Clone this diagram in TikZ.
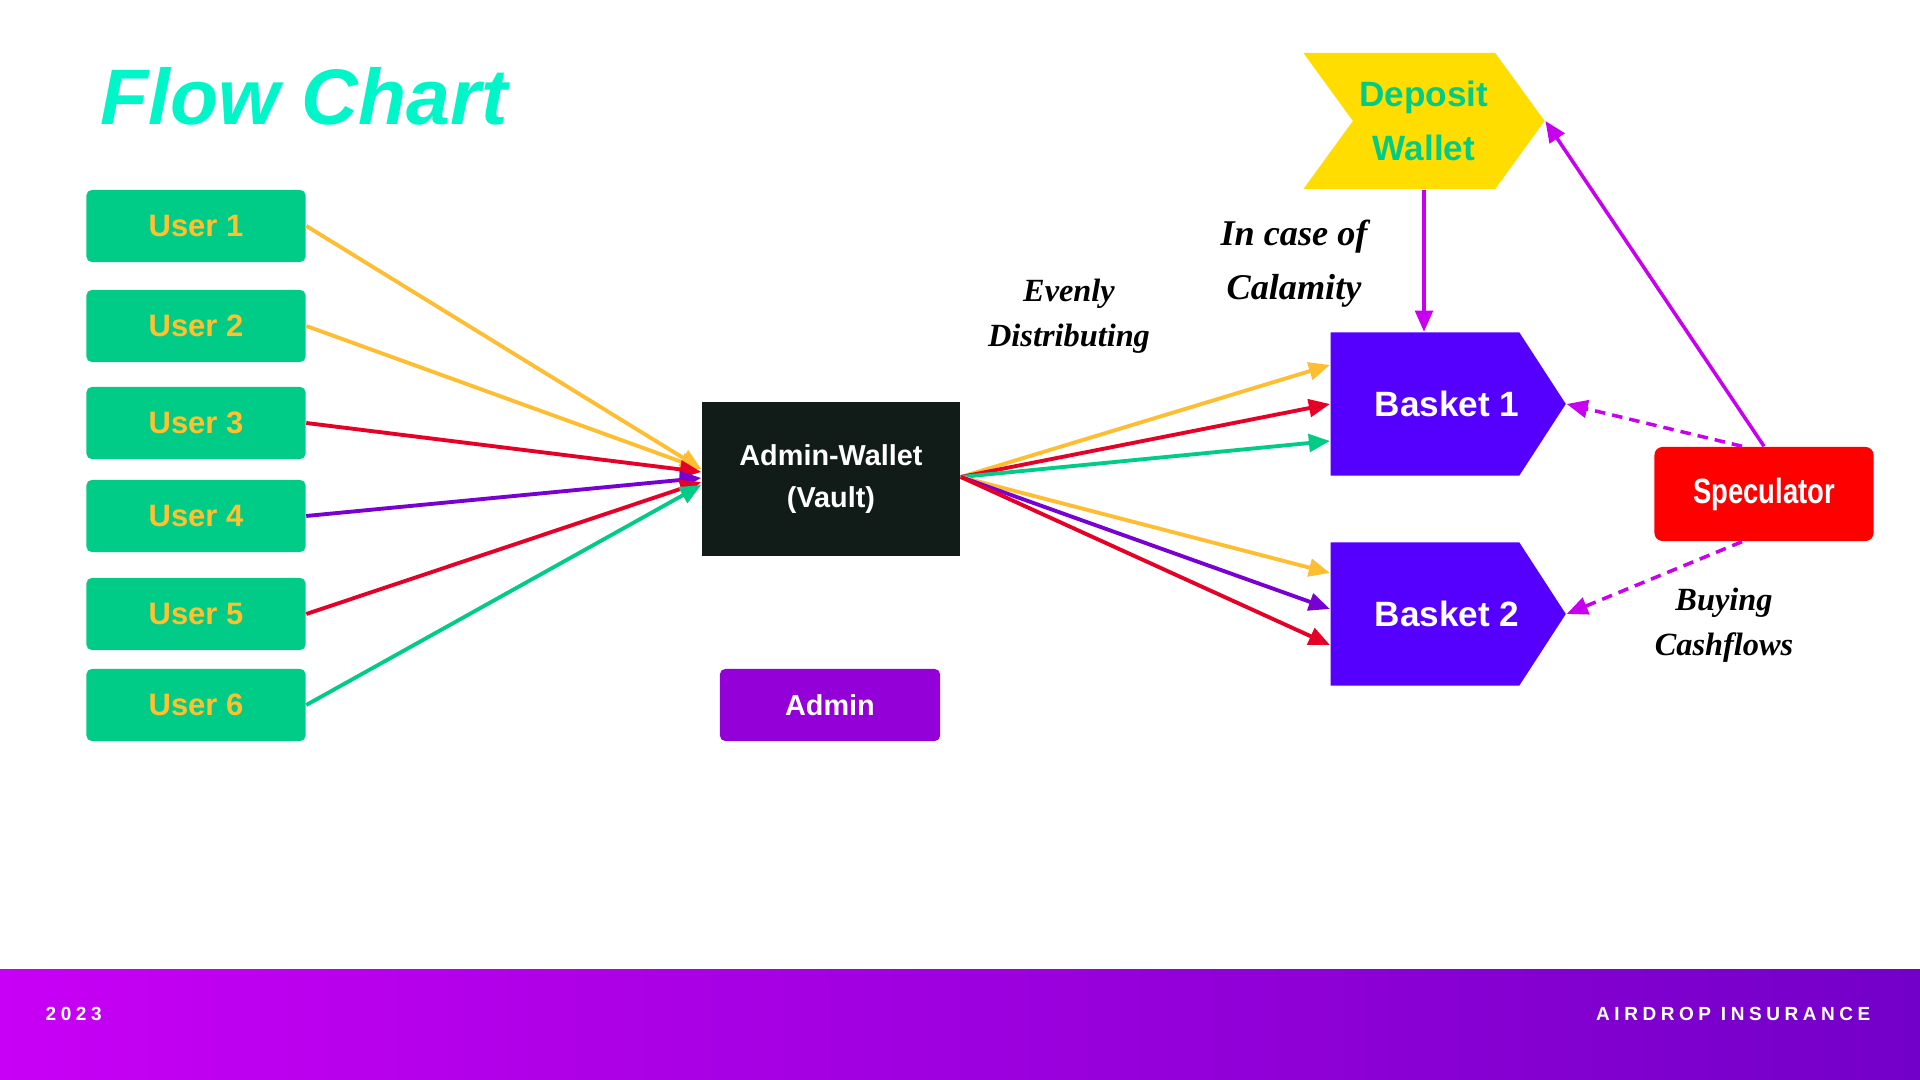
\documentclass[tikz,border=0pt]{standalone}
\usepackage{fontspec}
\setmainfont{Liberation Sans}
\newfontfamily\handfont{Liberation Serif}
\newfontfamily\condfont[FakeStretch=0.78]{Liberation Sans}
\newfontfamily\footfont[LetterSpace=24]{Liberation Sans}
\usepackage{xcolor}
\definecolor{titleaqua}{RGB}{0,245,200}
\definecolor{usergreen}{RGB}{0,204,136}
\definecolor{usertext}{RGB}{255,193,46}
\definecolor{arrorange}{RGB}{255,190,50}
\definecolor{arrred}{RGB}{230,0,40}
\definecolor{arrpurple}{RGB}{120,0,210}
\definecolor{vaultdark}{RGB}{17,28,25}
\definecolor{adminpurple}{RGB}{148,0,216}
\definecolor{depyellow}{RGB}{255,221,0}
\definecolor{basketblue}{RGB}{85,0,255}
\definecolor{specred}{RGB}{255,0,0}
\definecolor{linkpurple}{RGB}{200,0,240}
\definecolor{footleft}{RGB}{200,0,245}
\definecolor{footright}{RGB}{115,0,200}
\usepackage{tikz}
\usetikzlibrary{
  arrows.meta,
  positioning,
  shapes.symbols,
  calc
}

\begin{document}
\begin{tikzpicture}[x=0.01cm, y=-0.01cm,
  >={Triangle[length=6pt,width=5pt]},
  userbox/.style={fill=usergreen, rounded corners=1.5pt, inner sep=0pt,
    minimum width=2.19cm, minimum height=0.72cm, text=usertext,
    font=\bfseries\fontsize{8.8}{10}\selectfont},
  flow/.style={->, line width=1.1pt},
  basket/.style={signal, signal to=east, signal pointer angle=114,
    fill=basketblue, inner sep=0pt, minimum width=2.33cm,
    minimum height=1.43cm, text=white,
    font=\bfseries\fontsize{10}{12}\selectfont},
  hand/.style={align=center,
    font=\handfont\bfseries\itshape\fontsize{9.2}{12.9}\selectfont},
  link/.style={->, line width=1pt, linkpurple},
  dashlink/.style={link, dash pattern=on 3pt off 2pt}
]
  \useasboundingbox (0,0) rectangle (1920,1080);

  %% ===== TITLE =====
  \node[anchor=base west, inner sep=0pt, text=titleaqua,
    font=\bfseries\itshape\fontsize{22.4}{26}\selectfont] (title) at (100,125)
    {Flow Chart};

  %% ===== USERS =====
  \foreach \i/\y in {1/226,2/326,3/423,4/516,5/614,6/705}
    \node[userbox] (u\i) at (196,\y) {User \i};

  %% ===== VAULT + ADMIN =====
  \node[fill=vaultdark, minimum width=2.58cm, minimum height=1.54cm,
    text=white, align=center,
    font=\bfseries\fontsize{8.2}{12}\selectfont] (vault) at (831,479)
    {Admin-Wallet\\(Vault)};

  \node[fill=adminpurple, rounded corners=1.5pt, minimum width=2.2cm,
    minimum height=0.72cm, text=white,
    font=\bfseries\fontsize{8.2}{10}\selectfont] (admin) at (830,705)
    {Admin};

  %% ===== DEPOSIT + BASKETS =====
  \node[signal, signal to=east, signal from=west, signal pointer angle=108,
    fill=depyellow, inner sep=0pt, minimum width=2.41cm,
    minimum height=1.36cm, text=usergreen, align=center,
    font=\bfseries\fontsize{10}{15.3}\selectfont] (dep) at (1424,121)
    {Deposit\\Wallet};

  \node[basket] (b1) at (1425,404) {\hspace*{0.44cm}Basket 1};
  \node[basket] (b2) at (1425,614) {\hspace*{0.44cm}Basket 2};

  \node[fill=specred, rounded corners=2.3pt, minimum width=2.19cm,
    minimum height=0.94cm, text=white,
    font=\condfont\bfseries\fontsize{10}{12}\selectfont] (spec) at (1764,494)
    {Speculator};

  % Handwritten notes
  \node[hand] (even) at (1069,316) {Evenly\\Distributing};
  \node[hand, font=\handfont\bfseries\itshape\fontsize{10.3}{15.3}\selectfont]
    (calam) at (1294,264) {In case of\\Calamity};
  \node[hand] (buy) at (1724,625) {Buying\\Cashflows};

  %% ===== USERS -> VAULT =====
  \draw[flow, arrorange] (u1.east) -- ($(vault.west)+(0,-10)$);
  \draw[flow, arrorange] (u2.east) -- ($(vault.west)+(0,-10)$);
  \draw[flow, arrred]    (u3.east) -- ($(vault.west)+(0,-7)$);
  \draw[flow, arrpurple] (u4.east) -- ($(vault.west)+(0,-1)$);
  \draw[flow, arrred]    (u5.east) -- ($(vault.west)+(0,3)$);
  \draw[flow, usergreen] (u6.east) -- ($(vault.west)+(0,6)$);

  %% ===== VAULT -> BASKETS =====
  \draw[flow, arrorange] ($(vault.east)+(0,-2)$) -- ($(b1.west)+(0,-39)$);
  \draw[flow, arrred]    ($(vault.east)+(0,-2)$) -- (b1.west);
  \draw[flow, usergreen] ($(vault.east)+(0,-2)$) -- ($(b1.west)+(0,37)$);
  \draw[flow, arrorange] ($(vault.east)+(0,-2)$) -- ($(b2.west)+(0,-41)$);
  \draw[flow, arrpurple] ($(vault.east)+(0,-2)$) -- ($(b2.west)+(0,-5)$);
  \draw[flow, arrred]    ($(vault.east)+(0,-2)$) -- ($(b2.west)+(0,31)$);

  %% ===== SPECULATOR LINKS =====
  \draw[link] (dep.south) -- (dep.south |- b1.north);
  \draw[link] (spec.north) -- (dep.east);
  \draw[dashlink] ($(spec.north)+(-22,0)$) -- (b1.east);
  \draw[dashlink] ($(spec.south)+(-22,0)$) -- (b2.east);

  %% ===== FOOTER =====
  \shade[left color=footleft, right color=footright]
    (0,970) rectangle (1920,1080);
  \node[anchor=west, inner sep=0pt, text=white,
    font=\footfont\bfseries\fontsize{5.4}{6}\selectfont] (year) at (45,1014)
    {2023};
  \node[anchor=east, inner sep=0pt, text=white,
    font=\footfont\bfseries\fontsize{5.4}{6}\selectfont] (brand) at (1871,1014)
    {AIRDROP INSURANCE};

\end{tikzpicture}
\end{document}
